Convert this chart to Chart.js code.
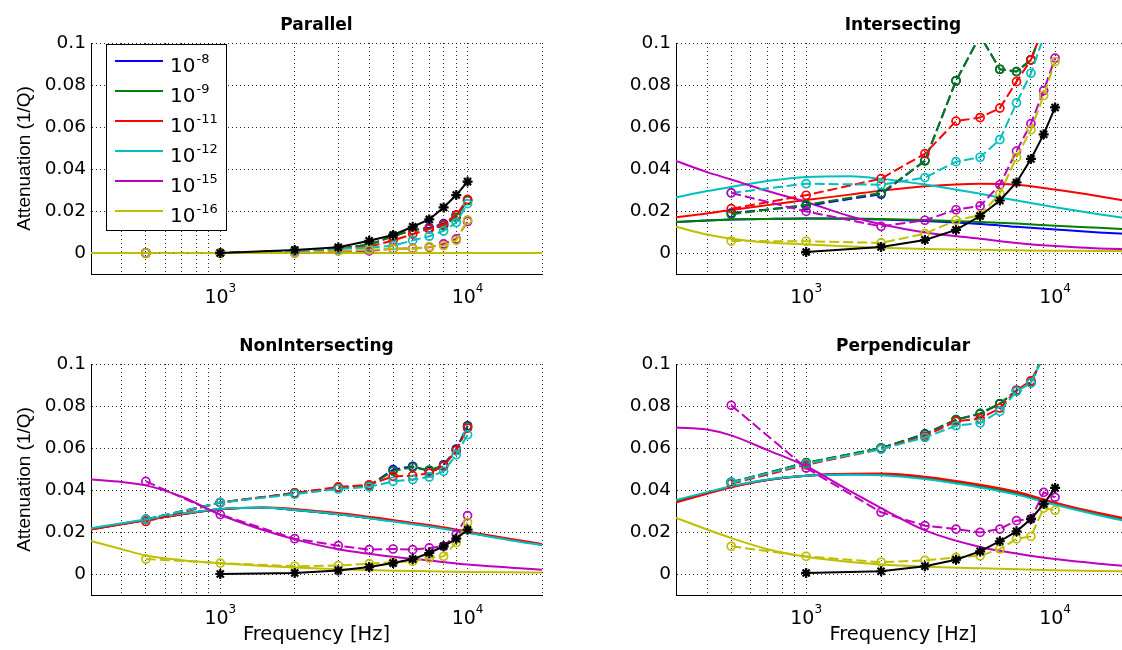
<!DOCTYPE html>
<html>
<head>
<meta charset="utf-8">
<script src="https://cdn.jsdelivr.net/npm/chart.js@4.4.0/dist/chart.umd.min.js"></script>
<style>
  html, body { margin: 0; padding: 0; background: #fff; overflow: hidden; width: 1122px; height: 650px; }
  canvas { position: absolute; }
</style>
</head>
<body>
<canvas id="parallel" width="561" height="321" style="left:0;top:0"></canvas>
<canvas id="intersecting" width="580" height="321" style="left:561px;top:0"></canvas>
<canvas id="nonintersecting" width="561" height="329" style="left:0;top:321px"></canvas>
<canvas id="perpendicular" width="580" height="329" style="left:561px;top:321px"></canvas>
<script>
// frequencies (Hz)
const fModel = [300, 400, 500, 700, 1000, 1500, 2000, 3000, 5000, 7000, 10000, 15000, 20000];
const fMeas = [500, 1000, 2000, 3000, 4000, 5000, 6000, 7000, 8000, 9000, 10000];
const fStar = [1000, 2000, 3000, 4000, 5000, 6000, 7000, 8000, 9000, 10000];

// axis ticks
const xGrid = [300, 400, 500, 600, 700, 800, 900, 1000, 2000, 3000, 4000, 5000, 6000, 7000, 8000, 9000, 10000, 20000];
const xDecades = [3, 4];
const yTicks = [0, 0.02, 0.04, 0.06, 0.08, 0.1];
const yTickLabels = ['0', '0.02', '0.04', '0.06', '0.08', '0.1'];
const legendExp = ['-8', '-9', '-11', '-12', '-15', '-16'];

// rows: blue, green, red, cyan, magenta, yellow
const parallelModel = [
  [0, 0, 0, 0, 0, 0, 0, 0, 0, 0, 0, 0, 0],
  [0, 0, 0, 0, 0, 0, 0, 0, 0, 0, 0, 0, 0],
  [0, 0, 0, 0, 0, 0, 0, 0, 0, 0, 0, 0, 0],
  [0, 0, 0, 0, 0, 0, 0, 0, 0, 0, 0, 0, 0],
  [0, 0, 0, 0, 0, 0, 0, 0, 0, 0, 0, 0, 0],
  [0, 0, 0, 0, 0, 0, 0, 0, 0, 0, 0, 0, 0]
];
const parallelMeas = [
  [0, 0, 0.001, 0.002, 0.004, 0.008, 0.011, 0.012, 0.014, 0.018, 0.025],
  [0, 0, 0.001, 0.002, 0.004, 0.008, 0.011, 0.0115, 0.013, 0.017, 0.025],
  [0, 0, 0.001, 0.002, 0.003, 0.006, 0.009, 0.0115, 0.0135, 0.018, 0.0255],
  [0, 0, 0.001, 0.002, 0.0025, 0.0035, 0.006, 0.008, 0.0105, 0.0145, 0.0235],
  [0, 0, 0, 0.001, 0.001, 0.002, 0.0022, 0.0027, 0.0043, 0.0067, 0.015],
  [0, 0, 0, 0.001, 0.0015, 0.002, 0.002, 0.003, 0.0035, 0.006, 0.0157]
];
const parallelStar = [0, 0.0014, 0.0027, 0.0058, 0.0086, 0.0125, 0.016, 0.0217, 0.0276, 0.034];

const intersectingModel = [
  [0.0148, 0.0155, 0.0159, 0.0162, 0.0164, 0.0163, 0.016, 0.0152, 0.0138, 0.0125, 0.0112, 0.0098, 0.009],
  [0.0148, 0.0155, 0.0159, 0.0162, 0.0164, 0.0164, 0.0162, 0.0157, 0.0148, 0.014, 0.013, 0.012, 0.0113],
  [0.017, 0.0188, 0.0205, 0.0228, 0.0252, 0.0278, 0.0297, 0.0318, 0.033, 0.0325, 0.0302, 0.027, 0.0245],
  [0.0265, 0.0295, 0.0315, 0.0343, 0.0362, 0.0365, 0.0353, 0.0326, 0.0282, 0.025, 0.0218, 0.0185, 0.0163],
  [0.0438, 0.0385, 0.035, 0.0295, 0.0243, 0.0175, 0.0137, 0.0098, 0.0068, 0.0048, 0.0033, 0.0022, 0.0017],
  [0.0125, 0.0088, 0.0068, 0.005, 0.0041, 0.0031, 0.0025, 0.0019, 0.0015, 0.0013, 0.0011, 0.001, 0.0009]
];
const intersectingMeas = [
  [0.019, 0.0225, 0.028, 0.044, 0.082, 0.1035, 0.0875, 0.0864, 0.092, 0.108, 0.125],
  [0.0184, 0.023, 0.0286, 0.0438, 0.082, 0.1035, 0.0875, 0.0864, 0.092, 0.108, 0.125],
  [0.0211, 0.0275, 0.0354, 0.0473, 0.0628, 0.0645, 0.069, 0.0816, 0.092, 0.108, 0.125],
  [0.0286, 0.033, 0.0325, 0.0359, 0.0435, 0.0456, 0.054, 0.0715, 0.0856, 0.103, 0.12],
  [0.0286, 0.0198, 0.0127, 0.0156, 0.0206, 0.0224, 0.0325, 0.0485, 0.0616, 0.0773, 0.0928],
  [0.0057, 0.0056, 0.0048, 0.0092, 0.0156, 0.018, 0.0283, 0.0456, 0.0587, 0.075, 0.0912]
];
const intersectingStar = [0.0005, 0.0029, 0.0062, 0.011, 0.0176, 0.025, 0.0336, 0.0448, 0.0565, 0.0693];

const nonIntersectingModel = [
  [0.0213, 0.0238, 0.0257, 0.0285, 0.0308, 0.0315, 0.0305, 0.0285, 0.0252, 0.0228, 0.0198, 0.0163, 0.014],
  [0.0213, 0.0238, 0.0257, 0.0285, 0.0308, 0.0315, 0.0305, 0.0285, 0.0252, 0.0228, 0.0198, 0.0163, 0.014],
  [0.0212, 0.0237, 0.0256, 0.0284, 0.0308, 0.0317, 0.031, 0.029, 0.0257, 0.0233, 0.0202, 0.0167, 0.0143],
  [0.0218, 0.0242, 0.026, 0.0288, 0.031, 0.0315, 0.0305, 0.0285, 0.025, 0.0226, 0.0196, 0.016, 0.0138],
  [0.045, 0.0438, 0.0422, 0.0368, 0.0282, 0.0208, 0.0165, 0.0118, 0.0082, 0.0064, 0.0045, 0.003, 0.002],
  [0.0157, 0.0118, 0.0088, 0.0066, 0.0051, 0.0038, 0.0031, 0.0023, 0.0016, 0.0013, 0.001, 0.0008, 0.0007]
];
const nonIntersectingMeas = [
  [0.026, 0.034, 0.0386, 0.041, 0.042, 0.0497, 0.0513, 0.049, 0.052, 0.0595, 0.0706],
  [0.026, 0.034, 0.0386, 0.041, 0.042, 0.049, 0.0508, 0.0495, 0.0515, 0.059, 0.0702],
  [0.025, 0.034, 0.0385, 0.0415, 0.0425, 0.0465, 0.0468, 0.048, 0.0513, 0.0589, 0.0695],
  [0.026, 0.034, 0.038, 0.0405, 0.0415, 0.0441, 0.045, 0.0462, 0.0489, 0.0568, 0.0663],
  [0.0441, 0.0283, 0.0168, 0.0135, 0.0116, 0.0119, 0.0116, 0.0124, 0.0132, 0.019, 0.0278],
  [0.0071, 0.0052, 0.0037, 0.004, 0.0049, 0.0056, 0.006, 0.0076, 0.0084, 0.015, 0.0246]
];
const nonIntersectingStar = [0, 0.0005, 0.0017, 0.0033, 0.0052, 0.0071, 0.01, 0.0132, 0.0168, 0.0211];

const perpendicularModel = [
  [0.0345, 0.0385, 0.0415, 0.0448, 0.0468, 0.0475, 0.0474, 0.0458, 0.0418, 0.0385, 0.0335, 0.0285, 0.0255],
  [0.0345, 0.0386, 0.0416, 0.0449, 0.0468, 0.0476, 0.0476, 0.046, 0.042, 0.0387, 0.0337, 0.0287, 0.0256],
  [0.034, 0.0382, 0.0413, 0.0448, 0.0468, 0.0477, 0.0478, 0.0463, 0.0425, 0.0392, 0.034, 0.029, 0.026],
  [0.0352, 0.039, 0.0418, 0.045, 0.0468, 0.0473, 0.047, 0.0452, 0.0412, 0.0378, 0.033, 0.028, 0.0248],
  [0.0698, 0.0688, 0.066, 0.059, 0.0513, 0.0395, 0.0314, 0.0208, 0.0129, 0.0098, 0.0071, 0.0049, 0.0037],
  [0.0267, 0.0212, 0.0171, 0.0118, 0.0082, 0.0057, 0.0045, 0.0035, 0.0027, 0.0023, 0.0018, 0.0014, 0.0012]
];
const perpendicularMeas = [
  [0.0437, 0.0529, 0.06, 0.0667, 0.0735, 0.0762, 0.081, 0.0875, 0.0913, 0.104, 0.115],
  [0.0437, 0.053, 0.06, 0.0665, 0.0735, 0.0765, 0.0812, 0.0872, 0.091, 0.104, 0.115],
  [0.043, 0.052, 0.0595, 0.0656, 0.0727, 0.074, 0.079, 0.0875, 0.092, 0.104, 0.115],
  [0.0435, 0.0525, 0.0595, 0.065, 0.0706, 0.0719, 0.0775, 0.087, 0.091, 0.104, 0.115],
  [0.0803, 0.0505, 0.0294, 0.023, 0.0214, 0.0198, 0.0214, 0.0254, 0.0262, 0.0389, 0.0365],
  [0.0132, 0.0084, 0.0056, 0.0065, 0.0079, 0.0087, 0.0119, 0.0167, 0.0179, 0.0314, 0.0303]
];
const perpendicularStar = [0.0005, 0.0013, 0.0037, 0.0068, 0.0108, 0.0156, 0.0203, 0.0262, 0.0333, 0.041];

// matlab line colours b g r c m y
const colors = ['#0000ff', '#008000', '#ff0000', '#00bfbf', '#bf00bf', '#bfbf00'];
const FONT = '"DejaVu Sans", sans-serif';

// titles, axis labels, 10^k ticks and legend (drawn on top of the chart)
const panelText = {
  id: 'panelText',
  afterDraw(chart, args, opts) {
    const { ctx, chartArea: a, scales } = chart;
    ctx.save();
    ctx.fillStyle = '#000';
    ctx.textBaseline = 'alphabetic';

    ctx.font = 'bold 17px ' + FONT;
    ctx.textAlign = 'center';
    ctx.fillText(opts.title, (a.left + a.right) / 2, a.top - 13);

    ctx.textAlign = 'left';
    xDecades.forEach(k => {
      const x = scales.x.getPixelForValue(Math.pow(10, k));
      ctx.font = '19px ' + FONT;
      const w1 = ctx.measureText('10').width;
      ctx.font = '12px ' + FONT;
      const w2 = ctx.measureText(String(k)).width;
      const x0 = x - (w1 + w2) / 2;
      ctx.font = '19px ' + FONT;
      ctx.fillText('10', x0, a.bottom + 29);
      ctx.font = '12px ' + FONT;
      ctx.fillText(String(k), x0 + w1, a.bottom + 18);
    });

    if (opts.xLabel) {
      ctx.font = '19.5px ' + FONT;
      ctx.textAlign = 'center';
      ctx.fillText('Frequency [Hz]', (a.left + a.right) / 2, a.bottom + 45);
    }

    if (opts.yLabel) {
      ctx.save();
      ctx.translate(30, (a.top + a.bottom) / 2);
      ctx.rotate(-Math.PI / 2);
      ctx.font = '19px "Liberation Sans", Arial, sans-serif';
      ctx.textAlign = 'center';
      ctx.fillText('Attenuation (1/Q)', 0, 0);
      ctx.restore();
    }

    if (opts.legend) {
      const bx = a.left + 15, by = a.top + 1;
      ctx.fillStyle = '#fff';
      ctx.fillRect(bx, by, 120, 186);
      ctx.strokeStyle = '#000';
      ctx.lineWidth = 1;
      ctx.strokeRect(bx + 0.5, by + 0.5, 120, 186);
      legendExp.forEach((e, i) => {
        const y = by + 17 + 30 * i;
        ctx.strokeStyle = colors[i];
        ctx.lineWidth = 2;
        ctx.beginPath();
        ctx.moveTo(bx + 9, y);
        ctx.lineTo(bx + 57, y);
        ctx.stroke();
        ctx.fillStyle = '#000';
        ctx.textAlign = 'left';
        ctx.font = '20px ' + FONT;
        ctx.fillText('10', bx + 64, y + 10.5);
        const w = ctx.measureText('10').width;
        ctx.font = '13px ' + FONT;
        ctx.fillText(e, bx + 65 + w, y + 1.5);
      });
    }
    ctx.restore();
  }
};

const panels = [
  { id: 'parallel', title: 'Parallel', model: parallelModel, meas: parallelMeas, star: parallelStar,
    axisW: 91, padRight: 19, padBottom: 7, yLabel: true, xLabel: false, legend: true },
  { id: 'intersecting', title: 'Intersecting', model: intersectingModel, meas: intersectingMeas, star: intersectingStar,
    axisW: 115, padRight: 11, padBottom: 7, yLabel: false, xLabel: false, legend: false },
  { id: 'nonintersecting', title: 'NonIntersecting', model: nonIntersectingModel, meas: nonIntersectingMeas, star: nonIntersectingStar,
    axisW: 91, padRight: 19, padBottom: 15, yLabel: true, xLabel: true, legend: false },
  { id: 'perpendicular', title: 'Perpendicular', model: perpendicularModel, meas: perpendicularMeas, star: perpendicularStar,
    axisW: 115, padRight: 11, padBottom: 15, yLabel: false, xLabel: true, legend: false }
];

function toPoints(xs, ys) {
  return xs.map((x, i) => ({ x: x, y: ys[i] }));
}

function makeChart(p) {
  const datasets = [];
  p.model.forEach((row, i) => {
    datasets.push({
      data: toPoints(fModel, row),
      borderColor: colors[i],
      borderWidth: 2,
      pointRadius: 0,
      cubicInterpolationMode: 'monotone'
    });
  });
  p.meas.forEach((row, i) => {
    datasets.push({
      data: toPoints(fMeas, row),
      borderColor: colors[i],
      borderWidth: 2,
      borderDash: [10, 4],
      pointStyle: 'circle',
      pointRadius: 4,
      pointBorderWidth: 1.7,
      pointBorderColor: colors[i],
      pointBackgroundColor: 'rgba(0,0,0,0)'
    });
  });
  datasets.push({
    data: toPoints(fStar, p.star),
    borderColor: '#000',
    borderWidth: 2,
    pointStyle: 'star',
    pointRadius: 5,
    pointBorderWidth: 2.2,
    pointBorderColor: '#000'
  });
  // later datasets on top, like matlab
  datasets.forEach((d, i) => { d.order = -i; });

  return new Chart(document.getElementById(p.id), {
    type: 'line',
    data: { datasets: datasets },
    options: {
      responsive: false,
      animation: false,
      devicePixelRatio: 1,
      events: [],
      layout: { padding: { left: 0, top: 43, right: p.padRight, bottom: p.padBottom } },
      plugins: {
        legend: { display: false },
        tooltip: { enabled: false },
        panelText: { title: p.title, yLabel: p.yLabel, xLabel: p.xLabel, legend: p.legend }
      },
      scales: {
        x: {
          type: 'logarithmic',
          min: 300,
          max: 20000,
          afterBuildTicks: s => { s.ticks = xGrid.map(v => ({ value: v })); },
          afterFit: s => { s.height = 40; },
          ticks: { display: false },
          grid: { color: 'rgba(0,0,0,0.85)', lineWidth: 1, drawTicks: false },
          border: { display: true, color: '#000', width: 1, dash: [1, 3] }
        },
        y: {
          type: 'linear',
          min: -0.01,
          max: 0.1,
          afterBuildTicks: s => { s.ticks = yTicks.map(v => ({ value: v })); },
          afterFit: s => { s.width = p.axisW; },
          ticks: {
            autoSkip: false,
            padding: 5,
            color: '#000',
            font: { family: FONT, size: 18.5 },
            callback: (v, i) => yTickLabels[i]
          },
          grid: { color: 'rgba(0,0,0,0.85)', lineWidth: 1, drawTicks: false },
          border: { display: true, color: '#000', width: 1, dash: [1, 3] }
        }
      }
    },
    plugins: [panelText]
  });
}

panels.forEach(makeChart);
</script>
</body>
</html>
